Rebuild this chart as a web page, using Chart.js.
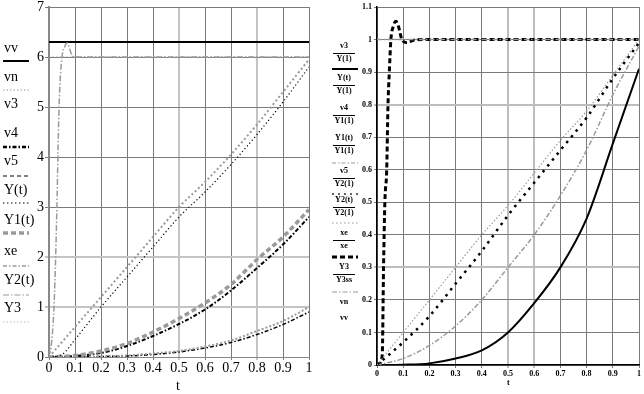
<!DOCTYPE html>
<html>
<head>
<meta charset="utf-8">
<script src="https://cdn.jsdelivr.net/npm/chart.js@4.4.1/dist/chart.umd.min.js"></script>
<style>
  body { margin: 0; background: #fff; width: 644px; height: 394px; overflow: hidden; position: relative; }
  #leftBox { position: absolute; left: 0; top: 0; width: 320px; height: 394px; }
  #rightBox { position: absolute; left: 320px; top: 0; width: 324px; height: 394px; }
  .axisTitle { position: absolute; font-family: "Liberation Serif", serif; color: #000; }
</style>
</head>
<body>
<div id="leftBox"><canvas id="leftChart" width="320" height="394"></canvas></div>
<div id="rightBox"><canvas id="rightChart" width="324" height="394"></canvas></div>
<div class="axisTitle" style="left:176px;top:378px;font-size:14px;">t</div>
<div class="axisTitle" style="left:507px;top:378px;font-size:8px;font-weight:bold;">t</div>
<script>
// ---- left plot data (raw values) ----
const tGrid = [0, 0.1, 0.2, 0.3, 0.4, 0.5, 0.6, 0.7, 0.8, 0.9, 1];
const tLin = [0, 0.05, 0.1, 0.2, 0.3, 0.4, 0.5, 0.6, 0.7, 0.8, 0.9, 1];
const yLinGray = [0, 0.3, 0.6, 1.2, 1.8, 2.4, 3.0, 3.5, 4.05, 4.65, 5.3, 5.95];
const yLinBlack = [0, 0.05, 0.35, 1.0, 1.6, 2.2, 2.8, 3.3, 3.85, 4.45, 5.1, 5.8];
const yQuadGray = [0, 0.03, 0.12, 0.27, 0.5, 0.77, 1.08, 1.45, 1.95, 2.4, 2.95];
const yQuadBlack = [0, 0.02, 0.08, 0.22, 0.42, 0.66, 0.95, 1.33, 1.78, 2.25, 2.8];
const yCubGray = [0, 0.0, 0.01, 0.03, 0.07, 0.12, 0.21, 0.33, 0.52, 0.72, 1.0];
const yCubBlack = [0, 0.0, 0.01, 0.02, 0.05, 0.1, 0.18, 0.29, 0.45, 0.65, 0.9];
const tStepL = [0, 0.01, 0.02, 0.03, 0.035, 0.04, 0.05, 0.06, 0.07, 0.08, 0.09, 0.1, 0.15, 1];
const yStepL = [0, 0.3, 1.1, 2.9, 4.2, 5.2, 6.0, 6.2, 6.28, 6.15, 6.02, 6.0, 6.0, 6.0];
const tEnds = [0, 1];
const vvLevel = [6.3, 6.3];
const vnLevel = [6, 6];

// ---- right plot data (normalised) ----
const rSolid = [0, 0.001, 0.005, 0.02, 0.045, 0.1, 0.19, 0.3, 0.45, 0.68, 0.91];
const rDots = [0, 0.07, 0.15, 0.25, 0.35, 0.46, 0.56, 0.66, 0.76, 0.88, 0.99];
const rLinGray = [0, 0.1, 0.2, 0.3, 0.4, 0.49, 0.59, 0.69, 0.78, 0.89, 1.0];
const rDashDot = [0, 0.02, 0.06, 0.12, 0.2, 0.3, 0.4, 0.52, 0.66, 0.83, 0.98];
const tStepR = [0, 0.01, 0.02, 0.025, 0.03, 0.037, 0.042, 0.047, 0.053, 0.062, 0.072, 0.082, 0.095, 0.115, 0.14, 0.2, 1];
const rStep = [0, 0.005, 0.03, 0.3, 0.5, 0.6, 0.8, 0.9, 1.0, 1.04, 1.056, 1.04, 1.0, 0.99, 0.998, 1.0, 1.0];
const rOne = [1, 1];

const pts = (xs, ys) => xs.map((x, i) => ({ x: x, y: ys[i] }));
const GRAY = "#9a9a9a";
const fmtTick = (v) => String(Number(v.toFixed(1)));

function line(data, color, width, dash) {
  return {
    data: data,
    borderColor: color,
    borderWidth: width,
    borderDash: dash,
    pointRadius: 0,
    fill: false,
    cubicInterpolationMode: "monotone",
  };
}

// legend drawn into the left margin of each plot
const sideLegend = {
  id: "sideLegend",
  afterDraw(chart, args, opts) {
    const ctx = chart.ctx;
    ctx.save();
    ctx.fillStyle = "#000";
    ctx.textBaseline = "middle";
    opts.items.forEach((it) => {
      ctx.font = opts.font;
      if (it.num) {
        ctx.textAlign = "center";
        ctx.fillText(it.num, opts.cx, it.y - 7);
        ctx.fillText(it.den, opts.cx, it.y + 6);
        ctx.strokeStyle = "#000";
        ctx.lineWidth = 1;
        ctx.setLineDash([]);
        ctx.beginPath();
        ctx.moveTo(opts.cx - 11, it.y + 0.5);
        ctx.lineTo(opts.cx + 11, it.y + 0.5);
        ctx.stroke();
      } else if (it.text) {
        ctx.textAlign = opts.cx ? "center" : "left";
        ctx.fillText(it.text, opts.cx || 4, it.y);
      }
      if (it.sample) {
        const s = it.sample;
        ctx.strokeStyle = s.color;
        ctx.lineWidth = s.width;
        ctx.setLineDash(s.dash);
        ctx.beginPath();
        ctx.moveTo(opts.x0, s.y);
        ctx.lineTo(opts.x1, s.y);
        ctx.stroke();
      }
    });
    ctx.restore();
  },
};

function fixBox(w, h) {
  return (s) => {
    if (w) s.width = w;
    if (h) s.height = h;
    s.paddingTop = 0; s.paddingBottom = 0; s.paddingLeft = 0; s.paddingRight = 0;
  };
}

// ---------- left chart ----------
const leftFont = { family: "Liberation Serif", size: 14 };
new Chart(document.getElementById("leftChart"), {
  type: "line",
  data: {
    datasets: [
      line(pts(tEnds, vnLevel), GRAY, 1.2, [1.5, 2]),
      line(pts(tStepL, yStepL), GRAY, 1.5, [6, 2, 1.5, 2]),
      line(pts(tEnds, vvLevel), "#000", 2, []),
      line(pts(tLin, yLinGray), GRAY, 2, [2, 2.5]),
      line(pts(tLin, yLinBlack), "#000", 1.2, [1.2, 2.5]),
      line(pts(tGrid, yQuadGray), GRAY, 3.5, [5, 3]),
      line(pts(tGrid, yQuadBlack), "#000", 2, [4, 2, 1.5, 2]),
      line(pts(tGrid, yCubGray), GRAY, 2, [2, 2]),
      line(pts(tGrid, yCubBlack), "#000", 1.5, [4, 2, 1.5, 2]),
    ],
  },
  options: {
    responsive: false,
    animation: false,
    layout: { padding: { top: 7, right: 11, left: 0, bottom: 0 } },
    plugins: {
      legend: { display: false },
      tooltip: { enabled: false },
      sideLegend: {
        font: "14px 'Liberation Serif'",
        x0: 3, x1: 29,
        items: [
          { text: "vv", y: 48, sample: { y: 61, color: "#000", width: 2, dash: [] } },
          { text: "vn", y: 77, sample: { y: 90, color: GRAY, width: 1, dash: [1.5, 2] } },
          { text: "v3", y: 104 },
          { text: "v4", y: 133, sample: { y: 147, color: "#000", width: 2.5, dash: [4, 2, 1.5, 2] } },
          { text: "v5", y: 161, sample: { y: 176, color: "#000", width: 1.2, dash: [4, 3] } },
          { text: "Y(t)", y: 190, sample: { y: 203, color: "#555", width: 1.5, dash: [1.5, 2.5] } },
          { text: "Y1(t)", y: 220, sample: { y: 233, color: GRAY, width: 3.5, dash: [5, 3] } },
          { text: "xe", y: 251, sample: { y: 266, color: GRAY, width: 1.5, dash: [4, 2, 1.5, 2] } },
          { text: "Y2(t)", y: 280, sample: { y: 295, color: GRAY, width: 1.2, dash: [6, 2, 1.5, 2] } },
          { text: "Y3", y: 308, sample: { y: 322, color: "#bbb", width: 1.2, dash: [1.5, 2] } },
        ],
      },
    },
    scales: {
      x: {
        type: "linear",
        min: 0, max: 1,
        afterFit: fixBox(null, 37),
        border: { color: "#888", width: 1 },
        grid: {
          color: (c) => ([5, 8].includes(c.index) ? "#c4c4c4" : "#7a7a7a"),
          lineWidth: (c) => ([5, 8].includes(c.index) ? 2 : 1),
          tickLength: 3,
        },
        ticks: { stepSize: 0.1, color: "#000", font: leftFont, padding: 0, maxRotation: 0, callback: fmtTick },
      },
      y: {
        min: 0, max: 7,
        afterFit: fixBox(49, null),
        border: { color: "#888", width: 2 },
        grid: {
          color: (c) => ([1, 2].includes(c.index) ? "#c4c4c4" : "#7a7a7a"),
          lineWidth: (c) => ([1, 2].includes(c.index) ? 2 : 1),
          tickLength: 4,
        },
        ticks: { stepSize: 1, color: "#000", font: leftFont, padding: 1, callback: fmtTick },
      },
    },
  },
  plugins: [sideLegend],
});

// ---------- right chart ----------
const rightFont = { family: "Liberation Serif", size: 8, weight: "bold" };
new Chart(document.getElementById("rightChart"), {
  type: "line",
  data: {
    datasets: [
      line(pts(tEnds, rOne), GRAY, 1.5, [5, 2, 1.5, 2]),
      line(pts(tGrid, rLinGray), GRAY, 1.2, [1.5, 2]),
      line(pts(tGrid, rDots), "#000", 2.5, [2.5, 5]),
      line(pts(tGrid, rDashDot), GRAY, 1.5, [5, 2, 1.5, 2]),
      line(pts(tGrid, rSolid), "#000", 2, []),
      line(pts(tStepR, rStep), "#000", 3, [5, 3]),
    ],
  },
  options: {
    responsive: false,
    animation: false,
    layout: { padding: { top: 7, right: 5, left: 0, bottom: 0 } },
    plugins: {
      legend: { display: false },
      tooltip: { enabled: false },
      sideLegend: {
        font: "bold 8px 'Liberation Serif'",
        cx: 24, x0: 12, x1: 38,
        items: [
          { num: "v3", den: "Y(1)", y: 53, sample: { y: 69, color: "#000", width: 2, dash: [] } },
          { num: "Y(t)", den: "Y(1)", y: 85 },
          { num: "v4", den: "Y1(1)", y: 115 },
          { num: "Y1(t)", den: "Y1(1)", y: 145, sample: { y: 163, color: GRAY, width: 1.2, dash: [4, 2, 1.5, 2] } },
          { num: "v5", den: "Y2(1)", y: 178, sample: { y: 194, color: "#333", width: 1.5, dash: [2, 4] } },
          { num: "Y2(t)", den: "Y2(1)", y: 207, sample: { y: 223, color: GRAY, width: 1, dash: [1.5, 2.5] } },
          { num: "xe", den: "xe", y: 240, sample: { y: 257, color: "#000", width: 3, dash: [5, 3] } },
          { num: "Y3", den: "Y3ss", y: 274, sample: { y: 292, color: GRAY, width: 1.2, dash: [5, 2, 1.5, 2] } },
          { text: "vn", y: 302 },
          { text: "vv", y: 318 },
        ],
      },
    },
    scales: {
      x: {
        type: "linear",
        min: 0, max: 1,
        afterFit: fixBox(null, 29),
        border: { color: "#000", width: 1.5 },
        grid: {
          color: (c) => ([5, 6].includes(c.index) ? "#bdbdbd" : "#7a7a7a"),
          lineWidth: (c) => ([5, 6].includes(c.index) ? 2 : 1),
          tickLength: 3,
        },
        ticks: { stepSize: 0.1, color: "#000", font: rightFont, padding: 1, maxRotation: 0, callback: fmtTick },
      },
      y: {
        min: 0, max: 1.1,
        afterFit: fixBox(57, null),
        border: { color: "#000", width: 1.5 },
        grid: {
          color: (c) => ([3, 8].includes(c.index) ? "#bdbdbd" : "#7a7a7a"),
          lineWidth: (c) => ([3, 8].includes(c.index) ? 2 : 1),
          tickLength: 3,
        },
        ticks: { stepSize: 0.1, color: "#000", font: rightFont, padding: 2, callback: fmtTick },
      },
    },
  },
  plugins: [sideLegend],
});
</script>
</body>
</html>
